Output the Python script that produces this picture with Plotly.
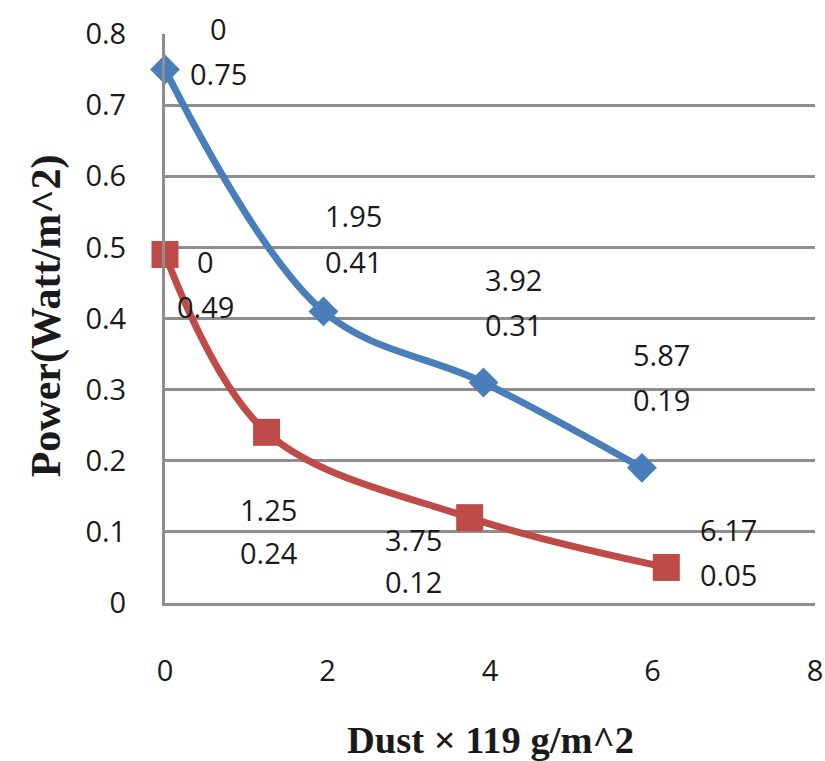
import plotly.graph_objects as go

# Data
blue_x = [0, 1.95, 3.92, 5.87]
blue_y = [0.75, 0.41, 0.31, 0.19]
red_x = [0, 1.25, 3.75, 6.17]
red_y = [0.49, 0.24, 0.12, 0.05]
x_title = "Dust × 119 g/m^2"
y_title = "Power(Watt/m^2)"

# Label offsets in pixels (dx, line1 dy, line2 dy; dy downward)
blue_off = [(53, -41, 4), (30, -96, -50), (30, -103, -58), (20, -113, -68)]
red_off = [(40, 7, 52), (2, 77, 120), (-56, 22, 64), (62, -38, 7)]

BLUE = "#4A7EBB"
RED = "#BE4B48"
GRID = "#8E8E8E"
TXT = "#1A1A1A"
SANS = "Open Sans"
SERIF = "Liberation Serif"

fig = go.Figure()
fig.add_trace(go.Scatter(x=blue_x, y=blue_y, mode="lines+markers",
                         line=dict(color=BLUE, width=7, shape="spline", smoothing=1),
                         marker=dict(symbol="diamond", size=23, color=BLUE),
                         cliponaxis=False, showlegend=False))
fig.add_trace(go.Scatter(x=red_x, y=red_y, mode="lines+markers",
                         line=dict(color=RED, width=7, shape="spline", smoothing=1),
                         marker=dict(symbol="square", size=27, color=RED),
                         cliponaxis=False, showlegend=False))

ann = []
for xs, ys, offs in ((blue_x, blue_y, blue_off), (red_x, red_y, red_off)):
    for xv, yv, (dx, d1, d2) in zip(xs, ys, offs):
        for txt, d in ((f"{xv:g}", d1), (f"{yv:g}", d2)):
            ann.append(dict(x=xv, y=yv, xref="x", yref="y", text=txt, showarrow=False,
                            xshift=dx, yshift=-d, xanchor="center", yanchor="middle",
                            font=dict(family=SANS, size=29, color=TXT)))

ann.append(dict(x=0.5, y=-0.24, xref="paper", yref="paper", text=f"<b>{x_title}</b>",
                showarrow=False, xanchor="center", yanchor="middle",
                font=dict(family=SERIF, size=38.5, color=TXT)))
ann.append(dict(x=-0.182, y=0.505, xref="paper", yref="paper", text=f"<b>{y_title}</b>",
                showarrow=False, xanchor="center", yanchor="middle", textangle=-90,
                font=dict(family=SERIF, size=42, color=TXT)))

fig.update_layout(
    width=825, height=761,
    margin=dict(l=165, r=10, t=34, b=158, autoexpand=False),
    paper_bgcolor="white", plot_bgcolor="white",
    annotations=ann,
    xaxis=dict(range=[0, 8], dtick=2, tick0=0, showgrid=False, zeroline=False,
               showline=True, linecolor=GRID, linewidth=3, ticks="",
               ticklabelstandoff=40,
               tickfont=dict(family=SANS, size=29, color=TXT)),
    yaxis=dict(range=[0, 0.8], dtick=0.1, tick0=0, showgrid=True, gridcolor=GRID,
               gridwidth=2.5, zeroline=False, showline=True, linecolor=GRID,
               linewidth=3, ticks="", ticklabelstandoff=30,
               tickformat="~g",
               tickfont=dict(family=SANS, size=29, color=TXT)),
)

fig.write_html("out.html")
